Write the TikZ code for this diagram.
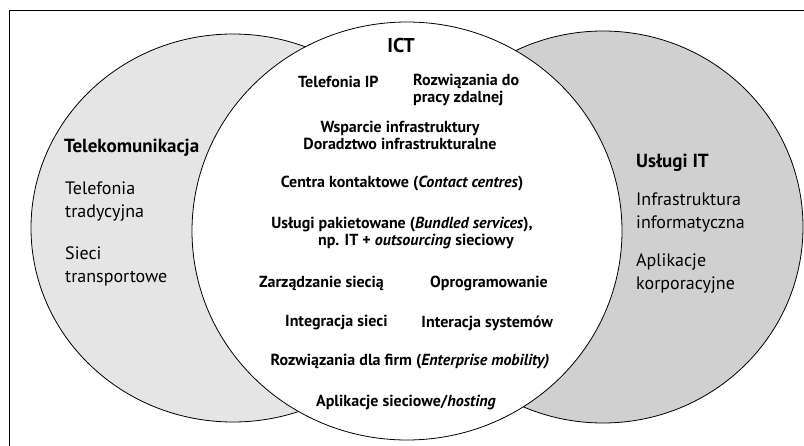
\documentclass[tikz,border=0pt]{standalone}
\usepackage{fontspec}
\setmainfont{PT Sans}
\definecolor{telegray}{HTML}{E5E5E5}
\definecolor{itgray}{HTML}{D0D0D0}
\begin{document}
\begin{tikzpicture}[x=1pt,y=-1pt,
        set/.style={draw=black,line width=0.8pt},
        sidehead/.style={anchor=west,inner sep=0pt,font=\fontsize{19}{22}\selectfont\bfseries},
        sideitem/.style={anchor=west,inner sep=0pt,align=left,font=\fontsize{18}{23}\selectfont},
        ictitem/.style={inner sep=0pt,align=center,font=\fontsize{16}{17}\selectfont\bfseries}]
    \useasboundingbox (0,0) rectangle (804,445);
    \draw[line width=1pt] (9.5,10) rectangle (830,470);
    % the three sets
    \draw[set,fill=telegray] (233,228) ellipse [x radius=202,y radius=194];
    \draw[set,fill=itgray] (603,227) ellipse [x radius=200,y radius=196];
    \draw[set,fill=white] (407,231) ellipse [x radius=215,y radius=209];
    % left set
    \node[sidehead] (tele) at (64,148) {Telekomunikacja};
    \node[sideitem] (trad) at (65,202) {Telefonia\\tradycyjna};
    \node[sideitem] (trans) at (65,266) {Sieci\\transportowe};
    % right set
    \node[sidehead] (it) at (636,163) {Usługi IT};
    \node[sideitem] (infra) at (636,212) {Infrastruktura\\informatyczna};
    \node[sideitem] (apps) at (636,274) {Aplikacje\\korporacyjne};
    % overlap
    \node[ictitem,font=\fontsize{20}{22}\selectfont\bfseries] (ict) at (401,45) {ICT};
    \node[ictitem,anchor=west] (voip) at (298,82) {Telefonia IP};
    \node[ictitem,anchor=west,align=left] (remote) at (413,90) {Rozwiązania do\\pracy zdalnej};
    \node[ictitem] (support) at (400,135) {Wsparcie infrastruktury\\Doradztwo infrastrukturalne};
    \node[ictitem] (contact) at (402,184) {Centra kontaktowe (\textit{Contact centres})};
    \node[ictitem] (bundled) at (402,233) {Usługi pakietowane (\textit{Bundled services}),\\
        \hspace*{28pt}np. IT + \textit{outsourcing} sieciowy};
    \node[ictitem,anchor=west] (netmgmt) at (259,283) {Zarządzanie siecią};
    \node[ictitem,anchor=east] (soft) at (548,283) {Oprogramowanie};
    \node[ictitem,anchor=west] (netint) at (285,323) {Integracja sieci};
    \node[ictitem,anchor=east] (sysint) at (553,323) {Interacja systemów};
    \node[ictitem] (mobility) at (410,362) {Rozwiązania dla firm (\textit{Enterprise mobility)}};
    \node[ictitem] (hosting) at (406,402) {Aplikacje sieciowe/\textit{hosting}};
\end{tikzpicture}
\end{document}
